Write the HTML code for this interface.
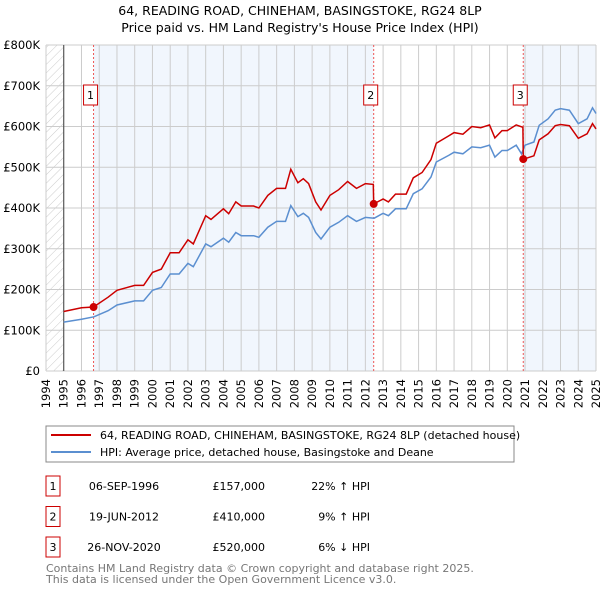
<!DOCTYPE html>
<html><head><meta charset="utf-8"><style>
body{margin:0;background:#fff;font-family:"Liberation Sans","DejaVu Sans",sans-serif;}
svg text{font-family:"DejaVu Sans","Liberation Sans",sans-serif;}
</style></head><body>
<svg id="c" width="600" height="590" xmlns="http://www.w3.org/2000/svg">
<defs><pattern id="hatch" width="6" height="6" patternUnits="userSpaceOnUse" patternTransform="rotate(45)"><line x1="0" y1="0" x2="0" y2="6" stroke="#ccc" stroke-width="1"/></pattern></defs>
<text x="300" y="15" text-anchor="middle" font-size="12.5">64, READING ROAD, CHINEHAM, BASINGSTOKE, RG24 8LP</text>
<text x="300" y="32" text-anchor="middle" font-size="12.5">Price paid vs. HM Land Registry's House Price Index (HPI)</text>
<g id="plot"></g>
<g>
<rect x="46" y="426" width="468" height="36" fill="#fff" stroke="#888"/>
<line x1="51" y1="435" x2="91" y2="435" stroke="#cc0000" stroke-width="2"/>
<text x="100" y="439" font-size="11">64, READING ROAD, CHINEHAM, BASINGSTOKE, RG24 8LP (detached house)</text>
<line x1="51" y1="452" x2="91" y2="452" stroke="#5b8fd0" stroke-width="2"/>
<text x="100" y="456" font-size="11">HPI: Average price, detached house, Basingstoke and Deane</text>
</g>
<g id="table"></g>
<text x="46" y="572" font-size="11" fill="#777">Contains HM Land Registry data © Crown copyright and database right 2025.</text>
<text x="46" y="583" font-size="11" fill="#777">This data is licensed under the Open Government Licence v3.0.</text>
</svg>
<script>
const hpiYears=[1995,1996,1996.7,1997.5,1998,1999,1999.5,2000,2000.5,2001,2001.5,2002,2002.3,2003,2003.3,2004,2004.3,2004.7,2005,2005.7,2006,2006.5,2007,2007.5,2007.8,2008.2,2008.5,2008.8,2009.2,2009.5,2010,2010.5,2011,2011.5,2012,2012.5,2013,2013.3,2013.7,2014.3,2014.7,2015.2,2015.7,2016,2016.7,2017,2017.5,2018,2018.5,2019,2019.3,2019.7,2020,2020.5,2020.8,2021,2021.5,2021.8,2022.3,2022.7,2023,2023.5,2024,2024.5,2024.8,2025];
const hpiValues=[120,127,133,148,162,172,172,198,205,238,238,264,256,312,305,326,316,340,332,332,328,353,367,367,406,379,387,377,340,324,353,365,381,367,377,375,387,381,398,398,435,447,476,513,529,537,533,550,548,554,525,541,541,554,533,554,562,603,619,640,644,640,607,619,646,632];
const priceYears=[1995,1996,1996.68,1997.5,1998,1999,1999.5,2000,2000.5,2001,2001.5,2002,2002.3,2003,2003.3,2004,2004.3,2004.7,2005,2005.7,2006,2006.5,2007,2007.5,2007.8,2008.2,2008.5,2008.8,2009.2,2009.5,2010,2010.5,2011,2011.5,2012,2012.45,2012.47,2013,2013.3,2013.7,2014.3,2014.7,2015.2,2015.7,2016,2016.7,2017,2017.5,2018,2018.5,2019,2019.3,2019.7,2020,2020.5,2020.88,2020.9,2021,2021.5,2021.8,2022.3,2022.7,2023,2023.5,2024,2024.5,2024.8,2025];
const priceValues=[146,155,157,181,198,210,210,242,250,290,290,322,312,381,372,398,386,415,405,405,400,431,448,448,495,462,472,460,415,395,431,445,465,448,460,458,410,422,415,434,434,474,487,519,559,577,585,581,600,597,604,572,590,590,604,598,520,521,528,567,582,602,605,602,571,582,607,594];
const saleLabels=["1","2","3"];
const saleYears=[1996.68,2012.47,2020.9];
const saleValues=[157,410,520];
const saleDates=["06-SEP-1996","19-JUN-2012","26-NOV-2020"];
const salePrices=["£157,000","£410,000","£520,000"];
const saleHpi=["22% ↑ HPI","9% ↑ HPI","6% ↓ HPI"];
const yTicks=[0,100,200,300,400,500,600,700,800];
const yTickLabels=["£0","£100K","£200K","£300K","£400K","£500K","£600K","£700K","£800K"];
const xYears=[1994,1995,1996,1997,1998,1999,2000,2001,2002,2003,2004,2005,2006,2007,2008,2009,2010,2011,2012,2013,2014,2015,2016,2017,2018,2019,2020,2021,2022,2023,2024,2025];

const NS="http://www.w3.org/2000/svg";
const L=46,R=596,T=45,B=371;
const x=v=>L+(v-1994)/(2025-1994)*(R-L);
const y=v=>B-v/800*(B-T);
const plot=document.getElementById('plot');
function mk(tag,attrs,parent){const e=document.createElementNS(NS,tag);for(const k in attrs)e.setAttribute(k,attrs[k]);(parent||plot).appendChild(e);return e;}
let s=mk('rect',{x:x(saleYears[0]),y:T,width:x(saleYears[1])-x(saleYears[0]),height:B-T,fill:'#eef4fc',opacity:0.8});


s=mk('rect',{x:x(saleYears[2]),y:T,width:R-x(saleYears[2]),height:B-T,fill:'#eef4fc',opacity:0.8});


s=mk('rect',{x:L,y:T,width:x(1995)-L,height:B-T,fill:'url(#hatch)'});


yTicks.forEach((t,i)=>{
 const g=mk('line',{x1:L,x2:R,y1:y(t),y2:y(t),stroke:'#ccc','stroke-width':1});
 
 
 const tx=mk('text',{x:L-6,y:y(t)+4,'text-anchor':'end','font-size':11.5});
 
 
 tx.textContent=yTickLabels[i];
});
xYears.forEach(yr=>{
 const g=mk('line',{x1:x(yr),x2:x(yr),y1:T,y2:B,stroke:'#ccc','stroke-width':1});
 
 
 const tx=mk('text',{x:0,y:0,'text-anchor':'end','font-size':11.5,transform:`translate(${x(yr)+4},${B+8}) rotate(-90)`});
 
 
 tx.textContent=yr;
});
const ax=mk('line',{x1:x(1995),x2:x(1995),y1:T,y2:B,stroke:'#444','stroke-width':1});


saleYears.forEach((yr,i)=>{
 const v=mk('line',{x1:x(yr),x2:x(yr),y1:T,y2:B,stroke:'#e55','stroke-width':1,'stroke-dasharray':'2,2'});
 
 
 const bx=mk('rect',{x:x(yr)-10,y:85,width:14,height:20,fill:'#fff',stroke:'#cc0000'});
 
 
 const t=mk('text',{x:x(yr)-3,y:99,'text-anchor':'middle','font-size':11});
 
 
 t.textContent=saleLabels[i];
});
const pts=(xs,vs)=>xs.map((a,i)=>x(a).toFixed(1)+','+y(vs[i]).toFixed(1)).join(' ');
let p=mk('polyline',{points:pts(hpiYears,hpiValues),fill:'none',stroke:'#5b8fd0','stroke-width':1.5});


p=mk('polyline',{points:pts(priceYears,priceValues),fill:'none',stroke:'#cc0000','stroke-width':1.5});


saleYears.forEach((yr,i)=>{
 const c=mk('circle',{cx:x(yr),cy:y(saleValues[i]),r:4,fill:'#cc0000'});
 
 
});
const tb=document.getElementById('table');
saleLabels.forEach((l,i)=>{
 const yy=484+i*30.5;
 const b=mk('rect',{x:46,y:yy-8,width:14,height:20,fill:'#fff',stroke:'#cc0000'},tb);
 
 
 const cells=[[53,'middle',l],[124,'middle',saleDates[i]],[265,'end',salePrices[i]],[370,'end',saleHpi[i]]];
 cells.forEach(c=>{
  const t=mk('text',{x:c[0],y:yy+6,'text-anchor':c[1],'font-size':11},tb);
  
  
  t.textContent=c[2];
 });
});
</script>
</body></html>
